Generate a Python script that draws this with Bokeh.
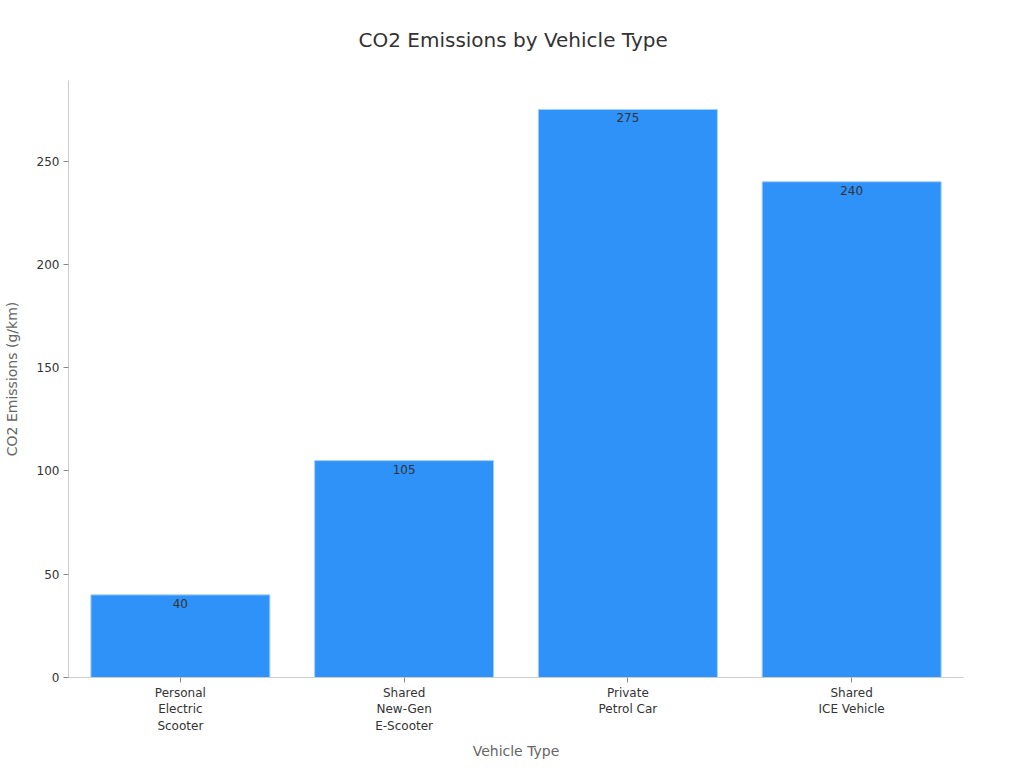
from bokeh.plotting import figure
from bokeh.models import ColumnDataSource, Title, LabelSet
from bokeh.core.properties import value
from bokeh.embed import file_html
from bokeh.resources import INLINE

categories = ["Personal\nElectric\nScooter", "Shared\nNew-Gen\nE-Scooter", "Private\nPetrol Car", "Shared\nICE Vehicle"]
emissions = [40, 105, 275, 240]
labels = [str(v) for v in emissions]
title_text = "CO2 Emissions by Vehicle Type"
y_max = 289

src = ColumnDataSource(dict(cat=categories, val=emissions, lab=labels))

FONT = "DejaVu Sans"

p = figure(x_range=categories, y_range=(0, y_max), frame_width=895, frame_height=597,
           output_backend="svg", toolbar_location=None,
           min_border_left=60, min_border_right=45, min_border_top=80, min_border_bottom=81)
p.title = None
p.add_layout(Title(text=title_text, align="left", text_font=FONT,
                   text_font_size="20px", text_font_style="normal", text_color="#333333",
                   vertical_align="top", standoff=54, offset=290), "above")

p.vbar(x="cat", top="val", width=0.8, source=src, fill_color="#2E92F8",
       line_color="#A8CFF8", line_width=1)

p.add_layout(LabelSet(x="cat", y="val", text="lab", source=src, text_align="center",
                      text_baseline="top", y_offset=-4, text_font=value(FONT),
                      text_font_size="12px", text_color="#333333"))

p.xgrid.grid_line_color = None
p.ygrid.grid_line_color = None
p.outline_line_color = None
p.background_fill_color = "white"
p.border_fill_color = "white"

for ax in (p.xaxis[0], p.yaxis[0]):
    ax.axis_line_color = "#cccccc"
    ax.major_tick_line_color = "#888888"
    ax.minor_tick_line_color = None
    ax.major_tick_in = 0
    ax.major_tick_out = 5
    ax.major_label_text_font = FONT
    ax.major_label_text_font_size = "12px"
    ax.major_label_text_color = "#333333"
    ax.axis_label_text_font = FONT
    ax.axis_label_text_font_size = "14px"
    ax.axis_label_text_font_style = "normal"
    ax.axis_label_text_color = "#666666"

p.xaxis.axis_label = "Vehicle Type"
p.yaxis.axis_label = "CO2 Emissions (g/km)"
p.yaxis.ticker = [0, 50, 100, 150, 200, 250]
p.xaxis.major_label_standoff = 3
p.yaxis.major_label_standoff = 4
p.xaxis.axis_label_standoff = 7
p.yaxis.axis_label_standoff = 14
p.x_range.range_padding = 0

open("out.html", "w").write(file_html(p, INLINE))
